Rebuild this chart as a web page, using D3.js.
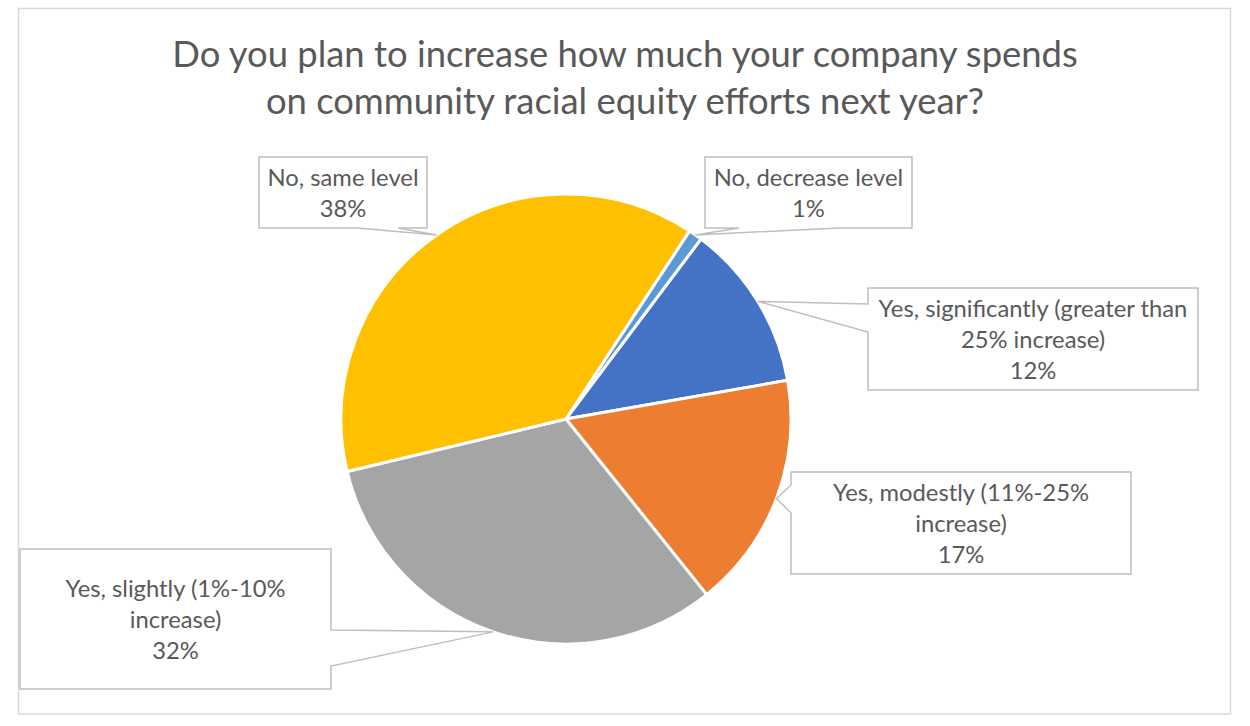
<!DOCTYPE html>
<html>
<head>
<meta charset="utf-8">
<script src="https://cdn.jsdelivr.net/npm/d3@7"></script>
<style>
  html, body { margin: 0; padding: 0; background: #ffffff; }
  svg { display: block; }
  text { font-family: Lato, "Open Sans", sans-serif; fill: #595959; }
</style>
</head>
<body>
<svg id="chart" width="1250" height="726"></svg>
<script>
// ---------- data ----------
const titleLines = ["Do you plan to increase how much your company spends",
                    "on community racial equity efforts next year?"];
const categories = ["No, decrease level",
                    "Yes, significantly (greater than 25% increase)",
                    "Yes, modestly (11%-25% increase)",
                    "Yes, slightly (1%-10% increase)",
                    "No, same level"];
const categoryLines = [["No, decrease level"],
                       ["Yes, significantly (greater than", "25% increase)"],
                       ["Yes, modestly (11%-25%", "increase)"],
                       ["Yes, slightly (1%-10%", "increase)"],
                       ["No, same level"]];
const values = [1, 12, 17, 32, 38];
const colors = ["#5B9BD5", "#4472C4", "#ED7D31", "#A5A5A5", "#FFC000"];

// ---------- layout ----------
const W = 1250, H = 726;
const cx = 566, cy = 419, R = 225;
const firstSliceDeg = 33.3;
// callout boxes: [x0, y0, x1, y1], side of pointer, base positions along that side
const callouts = [
  { box: [705, 157, 912, 228], side: "bottom", base: [739, 839] },
  { box: [868, 288, 1198, 390], side: "left",   base: [304, 332] },
  { box: [791, 472, 1131, 574], side: "left",   base: [485, 513] },
  { box: [20, 549, 331, 689],   side: "right",  base: [630, 666] },
  { box: [259, 157, 427, 228],  side: "bottom", base: [357, 398] }
];

const svg = d3.select("#chart");

// chart area border
svg.append("rect")
  .attr("x", 18.5).attr("y", 8.5).attr("width", 1212).attr("height", 705.5)
  .attr("fill", "#fff").attr("stroke", "#d9d9d9").attr("stroke-width", 1.5);

// font fitting helpers (Calibri is not available; scale to reference widths)
function fitSize(str, targetWidth) {
  const t = svg.append("text").attr("font-size", 100).text(str);
  const w = t.node().getComputedTextLength();
  t.remove();
  return 100 * targetWidth / w;
}
const titleSize = fitSize(titleLines[0], 906);
const labelSize = fitSize("Yes, significantly (greater than", 309);

// title
svg.append("g").selectAll("text").data(titleLines).join("text")
  .attr("x", 625)
  .attr("y", (d, i) => 67 + i * 47)
  .attr("text-anchor", "middle")
  .attr("font-size", titleSize)
  .text(d => d);

// pie
const a0 = firstSliceDeg * Math.PI / 180;
const pie = d3.pie().sort(null).value(d => d.value)
  .startAngle(a0).endAngle(a0 + 2 * Math.PI);
const data = categories.map((c, i) => ({ name: c, value: values[i], color: colors[i],
                                         lines: categoryLines[i], callout: callouts[i] }));
const arcs = pie(data);
const arc = d3.arc().innerRadius(0).outerRadius(R);
const tipArc = d3.arc().innerRadius(R).outerRadius(R);

const g = svg.append("g").attr("transform", `translate(${cx},${cy})`);
g.selectAll("path").data(arcs).join("path")
  .attr("d", arc)
  .attr("fill", d => d.data.color)
  .attr("stroke", "#fff")
  .attr("stroke-width", 3)
  .attr("stroke-linejoin", "round");

// callouts
function calloutPath(c, tip) {
  const [x0, y0, x1, y1] = c.box;
  const [b1, b2] = c.base;
  const p = d3.path();
  p.moveTo(x0, y0);
  p.lineTo(x1, y0);
  if (c.side === "right") {
    p.lineTo(x1, b1); p.lineTo(tip[0], tip[1]); p.lineTo(x1, b2);
  }
  p.lineTo(x1, y1);
  if (c.side === "bottom") {
    p.lineTo(b2, y1); p.lineTo(tip[0], tip[1]); p.lineTo(b1, y1);
  }
  p.lineTo(x0, y1);
  if (c.side === "left") {
    p.lineTo(x0, b2); p.lineTo(tip[0], tip[1]); p.lineTo(x0, b1);
  }
  p.closePath();
  return p.toString();
}

const lineH = 31;
const cg = svg.append("g");
arcs.forEach(d => {
  const c = d.data.callout;
  const t = tipArc.centroid(d);
  const tip = [t[0] + cx, t[1] + cy];
  cg.append("path")
    .attr("d", calloutPath(c, tip))
    .attr("fill", "#fff")
    .attr("stroke", "#bfbfbf")
    .attr("stroke-width", 1.5)
    .attr("stroke-linejoin", "miter");
  const lines = d.data.lines.concat([d3.format(".0%")(d.data.value / d3.sum(values))]);
  const mx = (c.box[0] + c.box[2]) / 2;
  const my = (c.box[1] + c.box[3]) / 2 + 9;
  cg.append("g").selectAll("text").data(lines).join("text")
    .attr("x", mx)
    .attr("y", (s, i) => my + (i - (lines.length - 1) / 2) * lineH)
    .attr("text-anchor", "middle")
    .attr("font-size", labelSize)
    .text(s => s);
});
</script>
</body>
</html>
